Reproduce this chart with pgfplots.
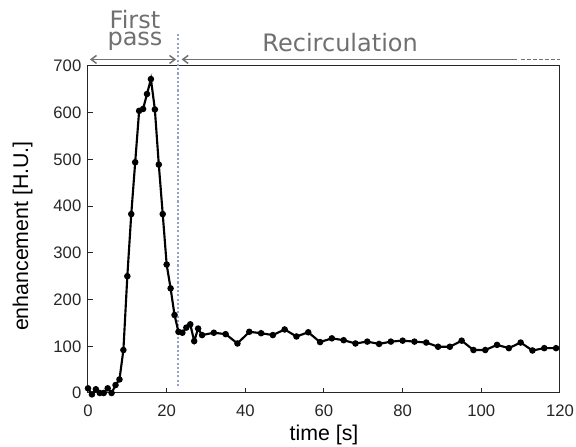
\documentclass[border=0pt]{standalone}
\usepackage{fontspec}
\setmainfont{Liberation Sans}
\newfontfamily\dejavu{DejaVu Sans}
\usepackage{pgfplots}
\pgfplotsset{compat=1.18}
\usetikzlibrary{arrows.meta}
\definecolor{axgray}{RGB}{38,38,38}
\definecolor{anngray}{RGB}{112,112,112}
\definecolor{vline}{RGB}{150,160,200}
\begin{document}
\begin{tikzpicture}
\path[use as bounding box] (-66pt,-40.5pt) rectangle (366pt,294.75pt);
\begin{axis}[
  at={(0,0)}, anchor=south west,
  scale only axis, width=354pt, height=245.25pt,
  xmin=0, xmax=120, ymin=0, ymax=700,
  xtick={0,20,...,120}, ytick={0,100,...,700},
  xtick pos=left, ytick pos=left,
  tick align=inside, major tick length=3.75pt,
  axis line style={axgray, line width=0.75pt},
  tick style={axgray, line width=0.75pt},
  ticklabel style={font=\fontsize{12.5}{14}\selectfont, text=axgray},
  /pgf/number format/assume math mode=true,
  xticklabel style={yshift=-5pt},
  yticklabel style={xshift=-1.5pt},
  clip=false,
]
\draw[vline, line width=2pt, dash pattern=on 1.6pt off 1.6pt] (axis cs:22.9,15) -- (axis cs:22.9,773);
\addplot[black, line width=1.6pt, mark=*, mark size=1.6pt] coordinates {
(0,10) (1,-3) (2,8) (3,0) (4,0) (5,10) (6,0) (7,17) (8,29) (9,92)
(10,250) (11,383) (12,494) (13,604) (14,608) (15,640) (16,672) (17,607)
(18,489) (19,383) (20,275) (21,224) (22,167) (23,131) (24,129) (25,140)
(26,147) (27,111) (28,138) (29,124) (32,129) (35,126) (38,106) (41,131)
(44,128) (47,124) (50,136) (53,121) (56,130) (59,109) (62,117) (65,113)
(68,106) (71,110) (74,105) (77,110) (80,112) (83,110) (86,108) (89,99)
(92,99) (95,112) (98,92) (101,92) (104,103) (107,96) (110,108) (113,91)
(116,96) (119,96)
};
\draw[anngray, line width=1.1pt, {Straight Barb[length=4pt,width=6pt]}-{Straight Barb[length=4pt,width=6pt]}] (axis cs:0.5,714) -- (axis cs:22.4,714);
\draw[anngray, line width=1.1pt, {Straight Barb[length=4pt,width=6pt]}-] (axis cs:23.8,714) -- (axis cs:109,714);
\draw[anngray, line width=1.1pt, dash pattern=on 3pt off 1.5pt] (axis cs:110,714) -- (axis cs:120,714);
\node[anchor=south, text=anngray, font=\dejavu\fontsize{18}{12.75}\selectfont, inner sep=0pt, align=center] at (axis cs:11.95,733) {First\\pass};
\node[anchor=base, text=anngray, font=\dejavu\fontsize{18}{18}\selectfont, inner sep=0pt] at (axis cs:64.1,731) {Recirculation};
\node[font=\fontsize{16}{18}\selectfont, text=black] at (axis description cs:0.5,-0.128) {time [s]};
\node[font=\fontsize{16}{18}\selectfont, text=black, rotate=90] at ([xshift=-49pt]axis description cs:0,0.48) {enhancement [H.U.]};
\end{axis}
\end{tikzpicture}
\end{document}
